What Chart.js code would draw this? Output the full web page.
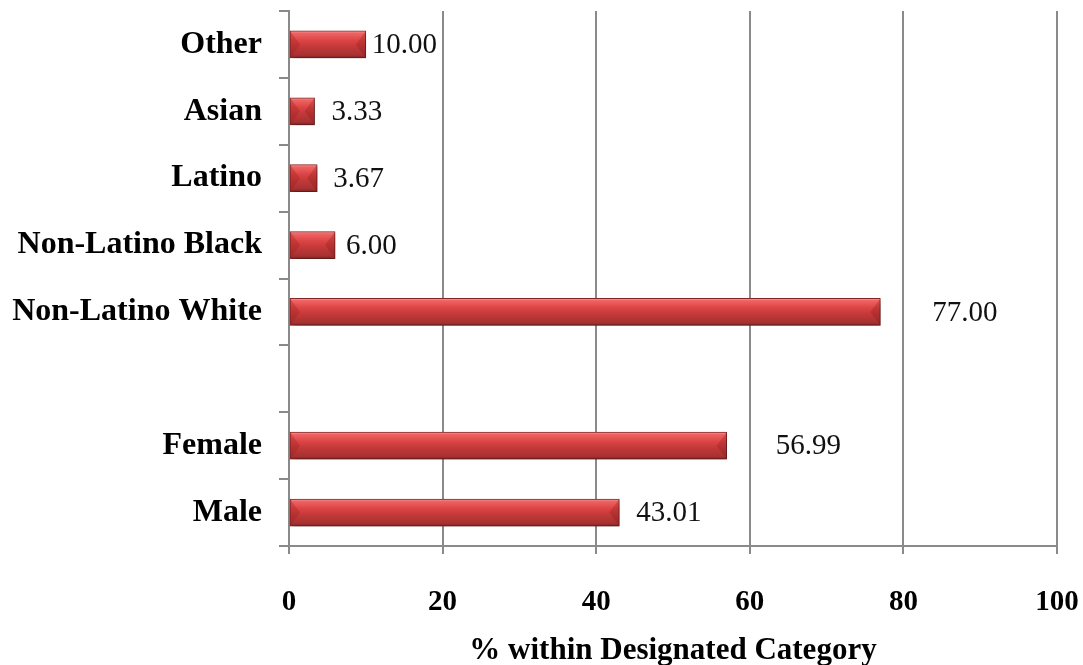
<!DOCTYPE html>
<html>
<head>
<meta charset="utf-8">
<script src="https://cdn.jsdelivr.net/npm/chart.js@4.4.1/dist/chart.umd.min.js"></script>
<style>
    html, body { margin: 0; padding: 0; background: #ffffff; }
    #wrap { width: 1083px; height: 665px; }
</style>
</head>
<body>
<div id="wrap"><canvas id="demoChart" width="1083" height="665"></canvas></div>
<script>
// Categories, top to bottom (blank slot separates ethnicity from gender)
const categories = ['Other', 'Asian', 'Latino', 'Non-Latino Black', 'Non-Latino White', '', 'Female', 'Male'];
const percentValues = [10.00, 3.33, 3.67, 6.00, 77.00, null, 56.99, 43.01];
const xTickValues = [0, 20, 40, 60, 80, 100];

// Horizontal gap between bar end and its value label
const labelGaps = [6, 17, 16, 11, 52, 0, 49, 17];

const serif = "'Liberation Serif', 'Times New Roman', serif";
const gridGray = '#8a8a8a';
const BAR_H = 27;

// Glossy red fill for each bar, built from its category position
function barFill(context) {
    const chart = context.chart;
    const yScale = chart.scales.y;
    const fallback = '#c83c3c';
    if (!yScale || context.dataIndex === undefined) return fallback;
    const yc = yScale.getPixelForValue(context.dataIndex);
    if (!isFinite(yc)) return fallback;
    const g = chart.ctx.createLinearGradient(0, yc - BAR_H / 2, 0, yc + BAR_H / 2);
    g.addColorStop(0, '#f7a5a5');
    g.addColorStop(0.08, '#f06464');
    g.addColorStop(0.35, '#dc4444');
    g.addColorStop(0.6, '#c23838');
    g.addColorStop(0.9, '#a63131');
    g.addColorStop(1, '#7d2222');
    return g;
}

// Soft drop shadow under the bars
const barShadow = {
    id: 'barShadow',
    beforeDatasetsDraw(chart) {
        const ctx = chart.ctx;
        ctx.save();
        ctx.shadowColor = 'rgba(0,0,0,0.35)';
        ctx.shadowBlur = 6;
        ctx.shadowOffsetX = 2;
        ctx.shadowOffsetY = 4;
    },
    afterDatasetsDraw(chart) {
        chart.ctx.restore();
    }
};

// Bevelled end caps so the bars look like 3D slabs
const barCaps = {
    id: 'barCaps',
    afterDatasetsDraw(chart) {
        const ctx = chart.ctx;
        const meta = chart.getDatasetMeta(0);
        meta.data.forEach((bar, i) => {
            if (percentValues[i] == null) return;
            const top = bar.y - bar.height / 2;
            const bot = bar.y + bar.height / 2;
            const mid = bar.y;
            const d = Math.min(10, (bar.x - bar.base) / 2);
            ctx.save();
            // left cap
            ctx.fillStyle = 'rgba(150,30,30,0.3)';
            ctx.beginPath();
            ctx.moveTo(bar.base, top);
            ctx.lineTo(bar.base + d, mid);
            ctx.lineTo(bar.base, bot);
            ctx.closePath();
            ctx.fill();
            // right cap
            ctx.fillStyle = 'rgba(120,20,20,0.25)';
            ctx.beginPath();
            ctx.moveTo(bar.x, top);
            ctx.lineTo(bar.x - d, mid);
            ctx.lineTo(bar.x, bot);
            ctx.closePath();
            ctx.fill();
            ctx.restore();
        });
    }
};

// Value labels to the right of each bar
const valueLabels = {
    id: 'valueLabels',
    afterDatasetsDraw(chart) {
        const ctx = chart.ctx;
        const meta = chart.getDatasetMeta(0);
        ctx.save();
        ctx.font = '29px ' + serif;
        ctx.fillStyle = '#111111';
        ctx.textAlign = 'left';
        ctx.textBaseline = 'middle';
        meta.data.forEach((bar, i) => {
            const v = percentValues[i];
            if (v == null) return;
            ctx.fillText(v.toFixed(2), bar.x + labelGaps[i], bar.y + 1);
        });
        ctx.restore();
    }
};

const ctx = document.getElementById('demoChart').getContext('2d');
const demoChart = new Chart(ctx, {
    type: 'bar',
    data: {
        labels: categories,
        datasets: [{
            data: percentValues,
            backgroundColor: barFill,
            borderColor: '#8a2626',
            borderWidth: 1,
            borderSkipped: false,
            barThickness: BAR_H
        }]
    },
    options: {
        indexAxis: 'y',
        responsive: false,
        animation: false,
        layout: { padding: { top: 11, right: 26, left: 0, bottom: 0 } },
        plugins: {
            legend: { display: false },
            tooltip: { enabled: false }
        },
        scales: {
            x: {
                min: 0,
                max: 100,
                afterBuildTicks: (scale) => {
                    scale.ticks = xTickValues.map(v => ({ value: v }));
                },
                afterFit: (scale) => {
                    scale.height = 119;
                    scale.paddingLeft = 0;
                    scale.paddingRight = 0;
                },
                grid: {
                    color: gridGray,
                    lineWidth: 2,
                    tickLength: 8,
                    drawTicks: true
                },
                border: { color: gridGray, width: 2 },
                ticks: {
                    color: '#000000',
                    padding: 31,
                    font: { family: serif, size: 29, weight: 'bold' }
                },
                title: {
                    display: true,
                    text: '% within Designated Category',
                    color: '#000000',
                    padding: { top: 0, bottom: -1 },
                    font: { family: serif, size: 31, weight: 'bold', lineHeight: 1 }
                }
            },
            y: {
                afterFit: (scale) => {
                    scale.width = 289;
                    scale.paddingTop = 0;
                    scale.paddingBottom = 0;
                },
                grid: {
                    offset: true,
                    drawOnChartArea: false,
                    color: gridGray,
                    lineWidth: 2,
                    tickLength: 10
                },
                border: { color: gridGray, width: 2 },
                ticks: {
                    color: '#000000',
                    padding: 17,
                    font: { family: serif, size: 32, weight: 'bold' }
                }
            }
        }
    },
    plugins: [barShadow, barCaps, valueLabels]
});
</script>
</body>
</html>
